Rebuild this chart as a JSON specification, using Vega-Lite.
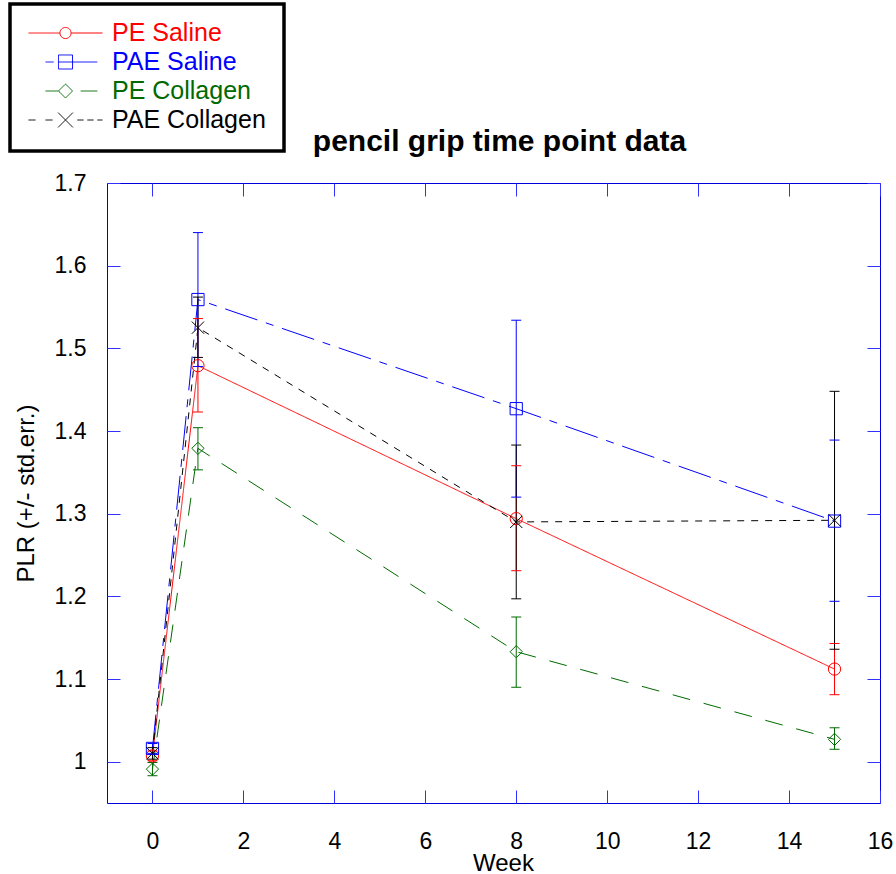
{
  "$schema": "https://vega.github.io/schema/vega-lite/v6.json",
  "width": 773,
  "height": 620,
  "autosize": {"type": "none"},
  "padding": {"left": 107, "top": 183, "right": 16, "bottom": 71},
  "background": "white",
  "config": {
    "view": {"stroke": "#0000dd", "strokeWidth": 1},
    "font": "Liberation Sans",
    "axis": {
      "labelFont": "Liberation Sans", "labelFontSize": 23, "labelColor": "black", "labelFlush": false,
      "titleFont": "Liberation Sans", "titleFontSize": 24, "titleFontWeight": "normal", "titleColor": "black",
      "domain": false, "grid": false, "tickColor": "#3030ff", "tickSize": -13, "tickWidth": 1
    },
    "legend": {
      "title": null, "orient": "none", "legendX": -97, "legendY": -179,
      "strokeColor": "black", "fillColor": "white",
      "padding": 18, "labelFont": "Liberation Sans", "labelFontSize": 25, "labelOffset": 9,
      "symbolSize": 5476, "symbolStrokeWidth": 1, "rowPadding": 4, "clipHeight": 22
    }
  },
  "data": {"values": [
    {"series": "PE Saline", "week": 0, "mean": 1.007, "lo": 1.001, "hi": 1.013},
    {"series": "PE Saline", "week": 1, "mean": 1.479, "lo": 1.423, "hi": 1.536},
    {"series": "PE Saline", "week": 8, "mean": 1.294, "lo": 1.231, "hi": 1.358},
    {"series": "PE Saline", "week": 15, "mean": 1.112, "lo": 1.081, "hi": 1.143},
    {"series": "PAE Saline", "week": 0, "mean": 1.016, "lo": 1.010, "hi": 1.022},
    {"series": "PAE Saline", "week": 1, "mean": 1.559, "lo": 1.478, "hi": 1.640},
    {"series": "PAE Saline", "week": 8, "mean": 1.427, "lo": 1.320, "hi": 1.534},
    {"series": "PAE Saline", "week": 15, "mean": 1.291, "lo": 1.194, "hi": 1.389},
    {"series": "PE Collagen", "week": 0, "mean": 0.991, "lo": 0.983, "hi": 0.999},
    {"series": "PE Collagen", "week": 1, "mean": 1.379, "lo": 1.353, "hi": 1.404},
    {"series": "PE Collagen", "week": 8, "mean": 1.133, "lo": 1.090, "hi": 1.175},
    {"series": "PE Collagen", "week": 15, "mean": 1.027, "lo": 1.015, "hi": 1.041},
    {"series": "PAE Collagen", "week": 0, "mean": 1.010, "lo": 1.003, "hi": 1.017},
    {"series": "PAE Collagen", "week": 1, "mean": 1.525, "lo": 1.489, "hi": 1.562},
    {"series": "PAE Collagen", "week": 8, "mean": 1.290, "lo": 1.197, "hi": 1.383},
    {"series": "PAE Collagen", "week": 15, "mean": 1.292, "lo": 1.136, "hi": 1.448}
  ]},
  "layer": [
    {
      "mark": {"type": "line", "strokeWidth": 1},
      "encoding": {
        "x": {"field": "week", "type": "quantitative",
          "scale": {"domain": [-1, 16], "nice": false, "zero": false},
          "axis": {"orient": "bottom", "values": [0, 2, 4, 6, 8, 10, 12, 14, 16], "title": "Week", "labelPadding": 40,
            "titleX": 396, "titleY": 67, "titleBaseline": "alphabetic", "titleAlign": "center"}},
        "y": {"field": "mean", "type": "quantitative",
          "scale": {"domain": [0.95, 1.7], "nice": false, "zero": false},
          "axis": {"orient": "left", "values": [1, 1.1, 1.2, 1.3, 1.4, 1.5, 1.6, 1.7], "format": ".1~f", "title": "PLR (+/- std.err.)", "labelPadding": 34,
            "titleX": -74, "titleY": 310, "titleAngle": -90, "titleBaseline": "alphabetic", "titleAlign": "center"}},
        "color": {"field": "series", "type": "nominal",
          "scale": {"domain": ["PE Saline", "PAE Saline", "PE Collagen", "PAE Collagen"], "range": ["#ff0000", "#0000ff", "#006a00", "#000000"]},
          "legend": {"encode": {
              "legend": {"update": {"strokeWidth": {"value": 3.5}}},
              "labels": {"update": {"fill": {"scale": "color", "field": "value"}}},
              "symbols": {"update": {
                "fill": {"value": "transparent"},
                "strokeDash": {"value": [1, 0]},
                "shape": {"signal": "datum.value === 'PE Saline' ? 'M-1,0H-0.15M0.15,0H1M-0.15,0A0.15,0.15,0,1,0,0.15,0A0.15,0.15,0,1,0,-0.15,0' : datum.value === 'PAE Saline' ? 'M-0.54,0H-0.32M-0.19,0H0.86M-0.19,-0.19H0.19V0.19H-0.19Z' : datum.value === 'PE Collagen' ? 'M-0.54,0H-0.19M0.41,0H0.86M-0.19,0L0,-0.19L0.19,0L0,0.19Z' : 'M-1,0H-0.81M-0.54,0H-0.35M0.32,0H0.49M0.59,0H0.76M0.86,0H1M-0.2,-0.2L0.2,0.2M-0.2,0.2L0.2,-0.2'"}
              }}
          }}},
        "strokeDash": {"field": "series", "type": "nominal",
          "scale": {"range": [[7, 7], [34, 9, 8, 9], [18, 14], [1, 0]]},
          "legend": null}
      }
    },
    {
      "mark": {"type": "rule", "strokeWidth": 1},
      "encoding": {
        "x": {"field": "week", "type": "quantitative",
          "axis": {"orient": "top", "values": [0, 2, 4, 6, 8, 10, 12, 14, 16], "labels": false,
            "title": "pencil grip time point data", "titleFontSize": 30, "titleFontWeight": "bold",
            "titleX": 392, "titleY": -33, "titleBaseline": "alphabetic", "titleAlign": "center"}},
        "y": {"field": "lo", "type": "quantitative",
          "axis": {"orient": "right", "values": [1, 1.1, 1.2, 1.3, 1.4, 1.5, 1.6, 1.7], "labels": false, "title": null}},
        "y2": {"field": "hi"},
        "color": {"field": "series", "type": "nominal", "legend": {"encode": {
              "legend": {"update": {"strokeWidth": {"value": 3.5}}},
              "labels": {"update": {"fill": {"scale": "color", "field": "value"}}},
              "symbols": {"update": {
                "fill": {"value": "transparent"},
                "strokeDash": {"value": [1, 0]},
                "shape": {"signal": "datum.value === 'PE Saline' ? 'M-1,0H-0.15M0.15,0H1M-0.15,0A0.15,0.15,0,1,0,0.15,0A0.15,0.15,0,1,0,-0.15,0' : datum.value === 'PAE Saline' ? 'M-0.54,0H-0.32M-0.19,0H0.86M-0.19,-0.19H0.19V0.19H-0.19Z' : datum.value === 'PE Collagen' ? 'M-0.54,0H-0.19M0.41,0H0.86M-0.19,0L0,-0.19L0.19,0L0,0.19Z' : 'M-1,0H-0.81M-0.54,0H-0.35M0.32,0H0.49M0.59,0H0.76M0.86,0H1M-0.2,-0.2L0.2,0.2M-0.2,0.2L0.2,-0.2'"}
              }}
          }}}
      }
    },
    {
      "mark": {"type": "point", "shape": "M-1,0H1", "filled": false, "size": 100, "strokeWidth": 1, "opacity": 1},
      "encoding": {
        "x": {"field": "week", "type": "quantitative", "axis": null},
        "y": {"field": "lo", "type": "quantitative", "axis": null},
        "color": {"field": "series", "type": "nominal", "legend": {"encode": {
              "legend": {"update": {"strokeWidth": {"value": 3.5}}},
              "labels": {"update": {"fill": {"scale": "color", "field": "value"}}},
              "symbols": {"update": {
                "fill": {"value": "transparent"},
                "strokeDash": {"value": [1, 0]},
                "shape": {"signal": "datum.value === 'PE Saline' ? 'M-1,0H-0.15M0.15,0H1M-0.15,0A0.15,0.15,0,1,0,0.15,0A0.15,0.15,0,1,0,-0.15,0' : datum.value === 'PAE Saline' ? 'M-0.54,0H-0.32M-0.19,0H0.86M-0.19,-0.19H0.19V0.19H-0.19Z' : datum.value === 'PE Collagen' ? 'M-0.54,0H-0.19M0.41,0H0.86M-0.19,0L0,-0.19L0.19,0L0,0.19Z' : 'M-1,0H-0.81M-0.54,0H-0.35M0.32,0H0.49M0.59,0H0.76M0.86,0H1M-0.2,-0.2L0.2,0.2M-0.2,0.2L0.2,-0.2'"}
              }}
          }}}
      }
    },
    {
      "mark": {"type": "point", "shape": "M-1,0H1", "filled": false, "size": 100, "strokeWidth": 1, "opacity": 1},
      "encoding": {
        "x": {"field": "week", "type": "quantitative", "axis": null},
        "y": {"field": "hi", "type": "quantitative", "axis": null},
        "color": {"field": "series", "type": "nominal", "legend": {"encode": {
              "legend": {"update": {"strokeWidth": {"value": 3.5}}},
              "labels": {"update": {"fill": {"scale": "color", "field": "value"}}},
              "symbols": {"update": {
                "fill": {"value": "transparent"},
                "strokeDash": {"value": [1, 0]},
                "shape": {"signal": "datum.value === 'PE Saline' ? 'M-1,0H-0.15M0.15,0H1M-0.15,0A0.15,0.15,0,1,0,0.15,0A0.15,0.15,0,1,0,-0.15,0' : datum.value === 'PAE Saline' ? 'M-0.54,0H-0.32M-0.19,0H0.86M-0.19,-0.19H0.19V0.19H-0.19Z' : datum.value === 'PE Collagen' ? 'M-0.54,0H-0.19M0.41,0H0.86M-0.19,0L0,-0.19L0.19,0L0,0.19Z' : 'M-1,0H-0.81M-0.54,0H-0.35M0.32,0H0.49M0.59,0H0.76M0.86,0H1M-0.2,-0.2L0.2,0.2M-0.2,0.2L0.2,-0.2'"}
              }}
          }}}
      }
    },
    {
      "mark": {"type": "point", "filled": false, "strokeWidth": 1, "size": 150, "opacity": 1},
      "encoding": {
        "x": {"field": "week", "type": "quantitative", "axis": null},
        "y": {"field": "mean", "type": "quantitative", "axis": null},
        "color": {"field": "series", "type": "nominal", "legend": {"encode": {
              "legend": {"update": {"strokeWidth": {"value": 3.5}}},
              "labels": {"update": {"fill": {"scale": "color", "field": "value"}}},
              "symbols": {"update": {
                "fill": {"value": "transparent"},
                "strokeDash": {"value": [1, 0]},
                "shape": {"signal": "datum.value === 'PE Saline' ? 'M-1,0H-0.15M0.15,0H1M-0.15,0A0.15,0.15,0,1,0,0.15,0A0.15,0.15,0,1,0,-0.15,0' : datum.value === 'PAE Saline' ? 'M-0.54,0H-0.32M-0.19,0H0.86M-0.19,-0.19H0.19V0.19H-0.19Z' : datum.value === 'PE Collagen' ? 'M-0.54,0H-0.19M0.41,0H0.86M-0.19,0L0,-0.19L0.19,0L0,0.19Z' : 'M-1,0H-0.81M-0.54,0H-0.35M0.32,0H0.49M0.59,0H0.76M0.86,0H1M-0.2,-0.2L0.2,0.2M-0.2,0.2L0.2,-0.2'"}
              }}
          }}},
        "shape": {"field": "series", "type": "nominal",
          "scale": {"range": ["M-1,-1L1,1M-1,1L1,-1", "square", "diamond", "circle"]},
          "legend": null}
      }
    }
  ],
  "resolve": {"axis": {"x": "independent", "y": "independent"}}
}
